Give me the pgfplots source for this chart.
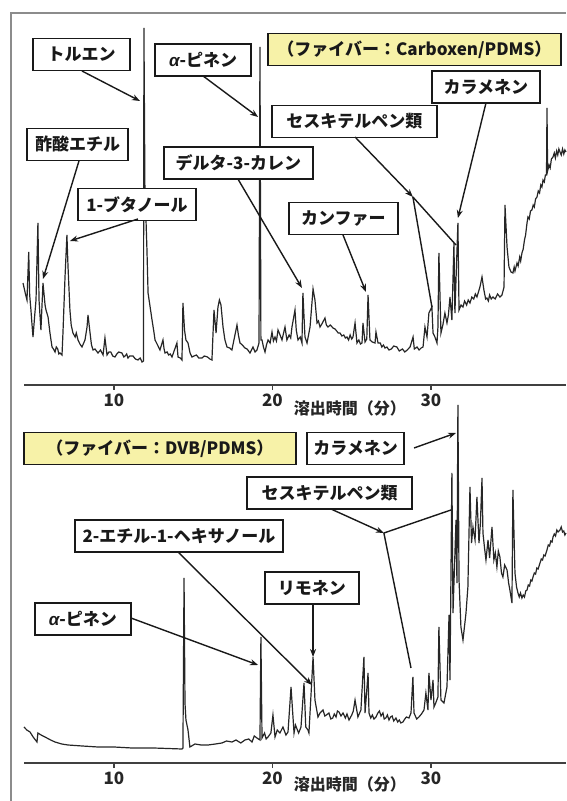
\documentclass[border=0pt]{standalone}
\usepackage{fontspec}
\setmainfont{Noto Sans CJK JP}
\newfontfamily\latinfont{Liberation Sans}
\usepackage{pgfplots}
\pgfplotsset{compat=1.18}
\usetikzlibrary{arrows.meta}
\definecolor{boxyellow}{HTML}{F7F2A8}
\definecolor{trace}{HTML}{262626}
\newcommand\al{{\latinfont\itshape α}}
\begin{document}
\begin{tikzpicture}[x=1pt,y=1pt,
  lab/.style={draw=black!90, line width=1.5pt, fill=white, minimum height=32pt, inner xsep=2pt, inner ysep=0pt, font=\fontsize{17}{19}\selectfont\bfseries, text=black!90},
  ybox/.style={lab, fill=boxyellow},
  arr/.style={line width=1.4pt, black!90, -{Stealth[length=8pt,width=6pt]}},
  ln/.style={line width=1.4pt, black!90}]
\pgfplotsset{chrom/.style={scale only axis, width=542pt, xmin=4.322, xmax=38.52,
  axis x line*=bottom, axis y line=none, ymin=0, clip=false,
  xtick={10,20,30}, tick align=outside, major tick length=5pt,
  axis line style={line width=1.6pt, black!75}, xtick style={line width=1.3pt, black!75},
  xticklabel style={font=\fontsize{17}{19}\selectfont\bfseries, text=black!85},
  /pgf/number format/assume math mode=true}}

% ---------------- top panel: Carboxen/PDMS ----------------
\begin{axis}[chrom, at={(24pt,416pt)}, anchor=south west, height=372pt, ymax=372]
\addplot[trace, line width=1.2pt] coordinates {
(4.26,102) (4.40,92) (4.51,85) (4.62,133) (4.68,90) (4.76,75) (4.82,62) (4.89,48) (5.00,70) (5.08,85) (5.20,162) (5.27,85) (5.33,70) (5.39,55)
(5.52,102) (5.65,80) (5.71,75) (5.84,68) (5.96,52) (6.09,38) (6.18,36) (6.28,33) (6.36,38) (6.45,36) (6.52,31) (6.59,32) (6.72,30)
(6.78,52) (6.91,108) (7.03,150) (7.10,118) (7.22,75) (7.30,60) (7.41,52) (7.55,48) (7.62,52) (7.73,45) (7.85,41) (7.98,38) (8.17,45)
(8.30,58) (8.36,70) (8.49,52) (8.58,40) (8.68,35) (8.80,36) (8.99,32) (9.15,35) (9.31,30) (9.43,47) (9.56,30) (9.68,33) (9.8,33) (9.92,29) (10.06,28)
(10.18,31) (10.30,33) (10.50,32) (10.62,28) (10.70,29) (10.80,31) (10.88,27) (11.0,29) (11.2,29) (11.35,26) (11.51,25) (11.65,27) (11.77,23) (11.86,24) (11.89,357) (11.95,200)
(12.08,135) (12.15,92) (12.28,78) (12.40,65) (12.50,55) (12.59,45) (12.75,40) (12.90,35) (13.09,45) (13.16,36) (13.22,32) (13.35,33) (13.45,30) (13.55,31) (13.66,28)
(13.97,42) (14.04,28) (14.18,27) (14.29,25) (14.35,82) (14.45,55) (14.54,45) (14.67,42) (14.80,32) (14.92,28) (15.05,29) (15.2,30) (15.35,27) (15.55,27)
(15.7,29) (15.9,28) (16.05,26) (16.18,25) (16.31,75) (16.44,52) (16.56,78) (16.65,85) (16.75,80) (16.88,58) (17.0,45) (17.13,38) (17.30,37) (17.44,35)
(17.76,60) (17.85,50) (17.95,42) (18.10,40) (18.26,37) (18.40,36) (18.58,32) (18.77,38) (18.90,33) (19.02,35) (19.15,42) (19.21,338) (19.27,45)
(19.34,45) (19.43,38) (19.53,33) (19.62,40) (19.72,45) (19.85,42) (19.97,53) (20.06,44) (20.16,48) (20.25,44) (20.35,55) (20.48,50) (20.60,45) (20.70,52) (20.79,58) (20.91,45)
(21.05,50) (21.15,47) (21.23,58) (21.42,75) (21.50,55) (21.61,45) (21.75,48) (21.86,42) (21.92,92) (22.05,48) (22.18,42) (22.37,58) (22.56,96)
(22.68,85) (22.81,62) (22.9,64) (23.00,58) (23.15,62) (23.31,67) (23.40,60) (23.50,58) (23.65,60) (23.82,57) (23.95,56) (24.05,54) (24.15,52) (24.26,52) (24.38,49) (24.50,50) (24.60,47) (24.70,48)
(24.8,45) (24.9,50) (25.0,46) (25.08,48) (25.21,62) (25.33,42) (25.45,45) (25.55,41) (25.65,42) (25.71,62) (25.84,43) (25.95,46) (26.03,90) (26.15,45)
(26.3,43) (26.47,42) (26.53,53) (26.66,42) (26.8,42) (26.9,38) (27.0,40) (27.1,37) (27.22,38) (27.35,35) (27.5,36) (27.65,39) (27.85,38) (28.0,34) (28.2,36) (28.35,33) (28.5,35)
(28.68,38) (28.87,48) (28.95,36) (29.12,38) (29.25,35) (29.38,37) (29.50,38) (29.62,58) (29.75,48) (29.87,72) (30.06,78) (30.13,52)
(30.25,48) (30.38,42) (30.44,58) (30.50,132) (30.63,52) (30.75,60) (30.88,72) (31.01,62) (31.10,70) (31.20,88) (31.32,65) (31.45,142)
(31.51,72) (31.70,162) (31.77,75) (31.90,80) (32.02,78) (32.12,84) (32.25,80) (32.35,85) (32.46,82) (32.58,88) (32.70,86) (32.80,91) (32.90,88) (33.09,98) (33.22,108)
(33.34,95) (33.45,86) (33.53,87) (33.62,84) (33.70,90) (33.80,86) (33.91,88) (34.05,86) (34.2,91) (34.35,88) (34.48,90) (34.61,98) (34.67,180) (34.80,138) (34.92,118) (35.05,113)
(35.17,112) (35.25,118) (35.30,114) (35.43,122) (35.50,119) (35.60,128) (35.66,124) (35.74,132) (35.82,136) (35.90,145) (35.97,150) (36.06,162) (36.12,168) (36.20,166) (36.28,174) (36.37,175) (36.45,180) (36.52,178) (36.60,186) (36.69,188) (36.77,194) (36.85,192) (36.93,200) (37.00,198) (37.07,205) (37.15,203) (37.22,210) (37.29,210) (37.32,277) (37.36,214) (37.45,220) (37.52,217) (37.60,226) (37.70,228) (37.78,232) (37.85,227) (37.93,234) (38.00,230) (38.07,236) (38.14,233) (38.22,230) (38.30,236) (38.38,231) (38.45,235) (38.52,233)
};
\node[font=\fontsize{16}{18}\selectfont\bfseries, text=black!85] at (axis cs:24.89,-23) {溶出時間（分）};
% labels
\node[ybox, minimum width=293pt] at (axis cs:28.96,335.5) {（ファイバー：Carboxen/PDMS）};
\node[lab, minimum width=97pt] (tol) at (axis cs:7.95,330.5) {トルエン};
\node[lab, minimum width=96pt] at (axis cs:15.62,325) {\al-ピネン};
\node[lab, minimum width=101pt] at (axis cs:7.70,240.5) {酢酸エチル};
\node[lab, minimum width=118pt] at (axis cs:11.45,180.5) {1-ブタノール};
\node[lab, minimum width=149pt] at (axis cs:17.85,222) {デルタ-3-カレン};
\node[lab, minimum width=109pt] at (axis cs:24.48,166.5) {カンファー};
\node[lab, minimum width=165pt] at (axis cs:25.17,263.5) {セスキテルペン類};
\node[lab, minimum width=108pt] at (axis cs:33.47,298) {カラメネン};
% arrows
\draw[arr] (axis cs:7.98,314) -- (axis cs:11.64,284);
\draw[arr] (axis cs:15.62,309) -- (axis cs:19.09,268);
\draw[arr] (axis cs:7.79,224) -- (axis cs:5.52,106);
\draw[arr] (axis cs:11.51,166) -- (axis cs:7.22,144);
\draw[arr] (axis cs:17.82,206) -- (axis cs:21.86,97);
\draw[arr] (axis cs:24.45,150) -- (axis cs:25.90,93);
\draw[arr] (axis cs:25.21,248) -- (axis cs:28.86,188);
\draw[ln] (axis cs:28.86,188) -- (axis cs:31.58,140);
\draw[ln] (axis cs:28.86,188) -- (axis cs:30.06,78);
\draw[arr] (axis cs:33.47,282) -- (axis cs:31.70,167);
\end{axis}

% ---------------- bottom panel: DVB/PDMS ----------------
\begin{axis}[chrom, at={(24pt,38pt)}, anchor=south west, height=370pt, ymax=370]
\addplot[trace, line width=1.2pt] coordinates {
(4.32,36) (4.50,33) (4.70,31) (4.90,26) (5.14,21) (5.20,30) (5.40,28) (5.65,26) (6.0,23) (6.28,21) (6.7,19) (7.10,18) (8.0,17) (8.99,16) (10.0,16)
(11.14,15) (12.5,15) (14.29,14) (14.35,15) (14.42,185) (14.48,60) (14.54,43) (14.67,33) (14.79,16)
(15.11,19) (15.5,18) (15.93,18) (16.4,19) (16.81,20) (17.1,22) (17.44,21) (17.7,23) (18.0,20) (18.26,23) (18.5,24) (18.71,21) (18.85,27) (19.02,25) (19.21,23) (19.27,126)
(19.34,25) (19.5,30) (19.6,24) (19.72,26) (19.9,30) (20.03,48) (20.16,26) (20.3,33) (20.47,30) (20.66,36) (20.85,28) (20.98,31) (21.17,76)
(21.36,30) (21.45,38) (21.55,34) (21.65,30) (21.80,36) (21.99,80) (22.10,36) (22.24,33) (22.30,30) (22.56,106) (22.68,63) (22.87,46)
(23.0,50) (23.19,53) (23.3,47) (23.4,48) (23.56,50) (23.68,44) (23.8,45) (23.9,49) (24.01,46) (24.1,52) (24.2,51) (24.32,47) (24.45,50) (24.6,45) (24.7,49) (24.83,43) (25.0,48) (25.1,52) (25.21,63) (25.39,46)
(25.58,53) (25.77,106) (25.84,50) (26.03,90) (26.09,50) (26.2,45) (26.3,48) (26.4,44) (26.53,46) (26.65,50) (26.75,52) (26.85,47) (26.97,50) (27.05,44) (27.15,45) (27.25,48) (27.35,43)
(27.45,46) (27.55,47) (27.65,42) (27.79,45) (27.9,41) (28.0,43) (28.1,40) (28.23,41) (28.35,44) (28.45,46) (28.61,45) (28.74,50) (28.86,86) (28.93,50) (29.1,44) (29.24,46) (29.4,49) (29.56,53)
(29.68,70) (29.81,53) (29.87,90) (30.00,63) (30.13,83) (30.19,56) (30.3,60) (30.44,66) (30.50,136) (30.63,63)
(30.82,60) (31.01,76) (31.14,148) (31.20,83) (31.32,290) (31.39,150) (31.58,243) (31.64,180)
(31.70,358) (31.77,183) (31.89,136) (32.02,123) (32.21,150) (32.33,176) (32.46,276) (32.56,220) (32.65,236)
(32.78,223) (32.90,266) (33.03,220) (33.12,240) (33.22,285) (33.28,230) (33.38,215) (33.47,203) (33.60,223) (33.70,205) (33.85,236)
(33.97,203) (34.06,210) (34.16,196) (34.25,212) (34.35,206) (34.45,190) (34.54,186) (34.65,198) (34.80,193) (34.90,180) (34.98,173) (35.11,160) (35.17,273)
(35.30,190) (35.40,176) (35.49,170) (35.57,166) (35.65,170) (35.74,165) (35.82,168) (35.90,166) (35.98,172) (36.06,173) (36.14,178) (36.22,177) (36.30,183) (36.37,182) (36.44,186) (36.52,190) (36.60,189) (36.68,195) (36.76,194) (36.88,200) (36.96,204) (37.04,203) (37.12,208) (37.20,207) (37.32,213) (37.40,218) (37.48,217) (37.56,222) (37.64,221) (37.70,226) (37.78,229) (37.86,227) (37.94,233) (38.02,231) (38.14,233) (38.22,236) (38.30,231) (38.38,232) (38.45,228) (38.52,230)
};
\node[font=\fontsize{16}{18}\selectfont\bfseries, text=black!85] at (axis cs:24.89,-21) {溶出時間（分）};
\node[ybox, minimum width=272pt] at (axis cs:12.90,314.5) {（ファイバー：DVB/PDMS）};
\node[lab, minimum width=97pt] at (axis cs:25.24,314.5) {カラメネン};
\node[lab, minimum width=165pt] at (axis cs:23.60,270) {セスキテルペン類};
\node[lab, minimum width=208pt] at (axis cs:14.10,227) {2-エチル-1-ヘキサノール};
\node[lab, minimum width=94pt] at (axis cs:22.49,175) {リモネン};
\node[lab, minimum width=96pt] at (axis cs:8.04,144) {\al-ピネン};
\draw[arr] (axis cs:28.93,315) -- (axis cs:31.58,330);
\draw[arr] (axis cs:23.69,254) -- (axis cs:27.03,230);
\draw[ln] (axis cs:27.03,230) -- (axis cs:31.26,253);
\draw[ln] (axis cs:27.03,230) -- (axis cs:28.74,95);
\draw[arr] (axis cs:14.04,211) -- (axis cs:22.49,78);
\draw[arr] (axis cs:22.56,159) -- (axis cs:22.56,106);
\draw[arr] (axis cs:11.07,145) -- (axis cs:19.09,98);
\end{axis}

\draw[line width=1.4pt, black!45] (11,0) -- (11,788) -- (566,788);
\pgfresetboundingbox
\path (0,0) rectangle (566,801);
\end{tikzpicture}
\end{document}
